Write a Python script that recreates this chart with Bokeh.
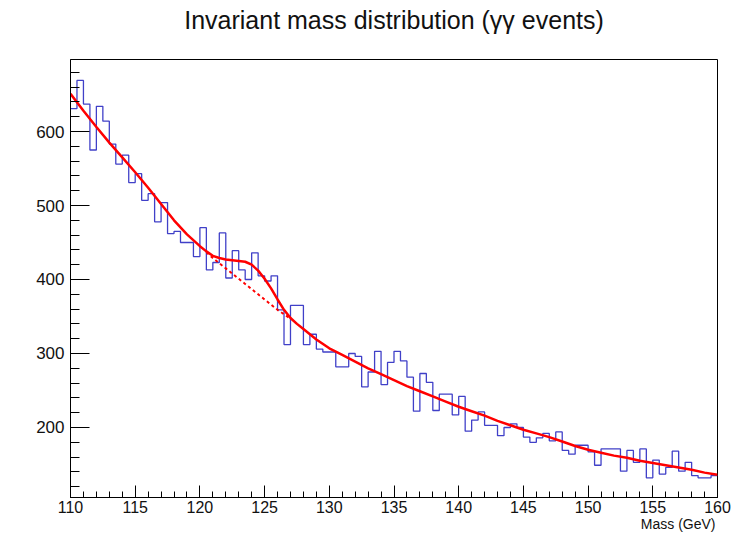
import numpy as np
from bokeh.plotting import figure
from bokeh.models import Range1d, SingleIntervalTicker, Title
from bokeh.embed import file_html
from bokeh.resources import INLINE

# ---- data ----
bin_low = 110.0
bin_width = 0.5
counts = [631, 669, 637, 575, 634, 614, 583, 556, 568, 531,
          543, 507, 516, 478, 504, 462, 465, 450, 450, 431,
          470, 413, 423, 463, 402, 439, 413, 400, 436, 405,
          398, 405, 359, 312, 365, 365, 312, 326, 306, 302,
          302, 282, 282, 300, 296, 255, 275, 303, 258, 288,
          303, 290, 268, 222, 273, 261, 223, 245, 245, 217,
          242, 195, 210, 221, 203, 203, 189, 200, 205, 200,
          187, 180, 186, 192, 182, 194, 169, 164, 176, 176,
          167, 149, 171, 171, 171, 141, 169, 153, 171, 132,
          156, 137, 146, 168, 141, 153, 135, 132, 132, 135]

fit_mass = [110, 111, 112, 113, 114, 115, 116, 117, 118, 119, 120,
            120.5, 121, 121.5, 122, 122.5, 123, 123.5, 124, 124.5,
            125, 125.5, 126, 126.5, 127, 127.5, 128, 129, 130,
            131, 132, 133, 134, 135, 136, 137, 138, 139, 140,
            141, 142, 143, 144, 145, 146, 147, 148, 149, 150,
            151, 152, 153, 154, 155, 156, 157, 158, 159, 160]
fit_total = [651, 628, 606, 585, 565, 545, 524, 502, 480, 461, 445,
             438, 432, 429, 427, 426, 425, 424, 420, 412,
             401, 388, 373, 359, 348, 340, 333, 319, 307,
             298, 289, 280, 272, 264, 256, 249, 242, 235, 228,
             222, 216, 209, 203, 197, 192, 187, 181, 175, 170,
             166, 162, 159, 155, 152, 149, 146, 143, 139, 136]

bkg_mass = [120.5, 121, 121.5, 122, 122.5, 123, 123.5, 124, 124.5,
            125, 125.5, 126, 126.5, 127]
bkg_values = [437, 429, 422, 415, 408, 401, 394, 387, 380,
              373, 366, 359, 353, 347]

title_text = "Invariant mass distribution (\u03b3\u03b3 events)"
x_label = "Mass (GeV)"
x_min, x_max = 110, 160
y_min, y_max = 105.4, 697.3

FONT = "Liberation Sans"

p = figure(width=734, height=534, output_backend="svg", toolbar_location=None,
           x_range=Range1d(x_min, x_max), y_range=Range1d(y_min, y_max),
           min_border_left=70, min_border_right=17, min_border_top=59,
           min_border_bottom=37, title=title_text)

p.title.align = "center"
p.title.text_font = FONT
p.title.text_font_size = "25px"
p.title.text_font_style = "normal"
p.title.text_color = "#111111"
p.title.standoff = 0

# blank spacer between the title and the frame
spacer = Title(text=" ", text_font=FONT, text_font_size="14px", standoff=8)
p.add_layout(spacer, "above")

p.grid.visible = False
p.outline_line_color = "black"
p.outline_line_width = 1
p.background_fill_color = "white"
p.border_fill_color = "white"

# histogram as steps
edges = list(bin_low + bin_width * np.arange(len(counts) + 1))
ys = counts + [counts[-1]]
p.step(edges, ys, mode="after", line_color="#4040c8", line_width=1.3)

# fits
p.line(fit_mass, fit_total, line_color="#ff0000", line_width=2.5)
p.line(bkg_mass, bkg_values, line_color="#ff0000", line_width=2,
       line_dash="3 3")

# axes
xa = p.xaxis[0]
xa.ticker = SingleIntervalTicker(interval=5, num_minor_ticks=5)
xa.major_tick_in = 12
xa.major_tick_out = 0
xa.minor_tick_in = 6
xa.minor_tick_out = 0
xa.major_label_standoff = 3
xa.major_label_text_font = FONT
xa.major_label_text_font_size = "16px"
xa.major_label_text_color = "#111111"
xa.axis_line_color = "black"

ya = p.yaxis[0]
ya.ticker = SingleIntervalTicker(interval=100, num_minor_ticks=5)
ya.major_tick_in = 19
ya.major_tick_out = 0
ya.minor_tick_in = 9
ya.minor_tick_out = 0
ya.major_label_standoff = 6
ya.major_label_text_font = FONT
ya.major_label_text_font_size = "17px"
ya.major_label_text_color = "#111111"
ya.axis_line_color = "black"

xt = Title(text=x_label, align="right", text_font=FONT, text_font_size="14px",
           text_font_style="normal", text_color="#111111", standoff=-4,
           offset=2)
p.add_layout(xt, "below")

open("out.html", "w").write(file_html(p, INLINE))
